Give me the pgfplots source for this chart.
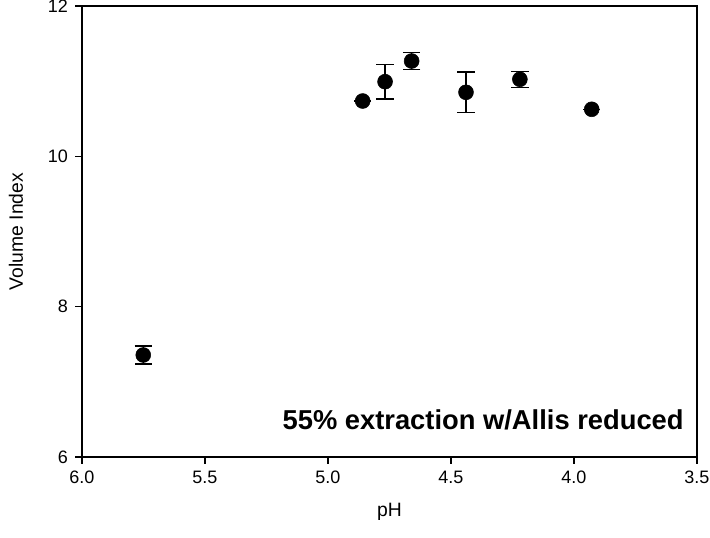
\documentclass[border=0pt]{standalone}
\usepackage{pgfplots}
\pgfplotsset{compat=1.18}
\usepackage{fontspec}
\setmainfont{Liberation Sans}
\begin{document}
\begin{tikzpicture}
\useasboundingbox (0,0) rectangle (532.5pt,403.5pt);
\begin{axis}[
  at={(61.5pt,60.75pt)}, anchor=south west,
  scale only axis,
  width=461.25pt, height=338.25pt,
  x dir=reverse,
  xmin=3.5, xmax=6, ymin=6, ymax=12,
  xtick={3.5,4,4.5,5,5.5,6},
  ytick={6,8,10,12},
  xticklabel style={yshift=-2pt, /pgf/number format/fixed, /pgf/number format/fixed zerofill, /pgf/number format/precision=1},
  /pgf/number format/assume math mode=true,
  tick align=outside, tick pos=left,
  major tick length=5pt,
  axis line style={line width=0.9pt},
  tick style={line width=0.9pt, black},
  ticklabel style={font=\fontsize{13.5}{15}\selectfont},
  yticklabel style={xshift=-2pt},
  xlabel={pH}, ylabel={Volume Index},
  label style={font=\fontsize{14.5}{17}\selectfont},
  xlabel style={at={(axis description cs:0.5,-0.122)}, anchor=center},
  ylabel style={at={(axis description cs:-0.1073,0.5)}, anchor=center},
]
\addplot[only marks, mark=*, mark size=5.6pt, black,
  error bars/.cd, y dir=both, y explicit,
  error bar style={line width=0.9pt, black},
  error mark options={rotate=90, mark size=6.5pt, line width=0.9pt, black}]
  coordinates {
  (5.751,7.357) +- (0,0.12)
  (4.859,10.736) +- (0,0)
  (4.768,10.993) +- (0,0.23)
  (4.660,11.268) +- (0,0.11)
  (4.439,10.852) +- (0,0.27)
  (4.220,11.025) +- (0,0.105)
  (3.928,10.626) +- (0,0)
  };
\node[anchor=east, font=\bfseries\fontsize{20.5}{24}\selectfont] at (axis cs:3.535,6.49) {55\% extraction w/Allis reduced};
\end{axis}
\end{tikzpicture}
\end{document}
